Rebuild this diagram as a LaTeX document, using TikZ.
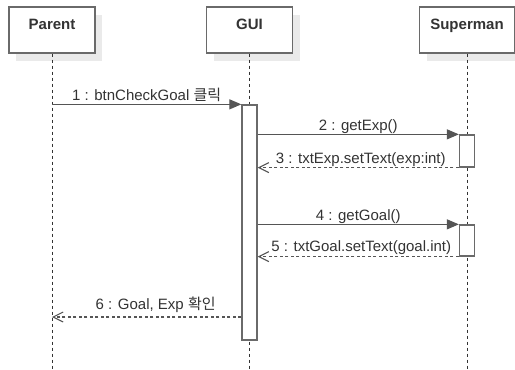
\documentclass[tikz,border=0pt]{standalone}
\usepackage{fontspec}
\setmainfont{Liberation Sans}
\newfontfamily\kr{Noto Sans CJK KR}
\usetikzlibrary{arrows.meta,shadows}
\definecolor{ink}{HTML}{333333}
\definecolor{boxline}{HTML}{6A6A6A}
\definecolor{wire}{HTML}{555555}
\definecolor{shade}{HTML}{EAEAEA}
\begin{document}
\begin{tikzpicture}[x=1pt,y=-1pt,
  actor/.style={draw=boxline, line width=1.3pt, fill=white, minimum height=46pt,
    inner sep=0pt, text=ink, font=\fontsize{15}{18}\selectfont\bfseries,
    text height=11pt, text depth=12.4pt,
    drop shadow={shadow xshift=7pt, shadow yshift=-8pt, fill=shade, opacity=1}},
  life/.style={draw=ink, line width=1pt, dash pattern=on 3pt off 3pt},
  act/.style={draw=boxline, line width=1.3pt, fill=white, minimum width=15pt, inner sep=0pt},
  msg/.style={draw=wire, line width=1.2pt, -{Triangle[length=12pt,width=10pt]}},
  ret/.style={draw=wire, line width=1.1pt, dash pattern=on 3pt off 2.5pt,
    -{Straight Barb[length=10pt,width=10pt,line width=1.1pt]}},
  lbl/.style={text=ink, font=\fontsize{15}{18}\selectfont, inner sep=0pt, anchor=base}]
\useasboundingbox (0,0) rectangle (515,370);

% participants
\node[actor, minimum width=86pt] (P) at (52,30) {Parent};
\node[actor, minimum width=86pt] (G) at (249.5,30) {GUI};
\node[actor, minimum width=95pt] (S) at (467,30) {Superman};

% reference heights
\coordinate (bot) at (0,370);
\coordinate (ygui) at (0,222.5);
\coordinate (ys1) at (0,151);
\coordinate (ys2) at (0,240.5);
\coordinate (y6) at (0,317);

% lifelines
\draw[life] (P.south) -- (P.south |- bot);
\draw[life] (G.south) -- (G.south |- bot);
\draw[life] (S.south) -- (S.south |- bot);

% activation bars
\node[act, minimum height=235pt] (gbar) at (G.south |- ygui) {};
\node[act, minimum height=32pt] (s1) at (S.south |- ys1) {};
\node[act, minimum height=31pt] (s2) at (S.south |- ys2) {};

% messages
\draw[msg] (P.south |- gbar.north) -- (gbar.north west)
  node[lbl, midway, yshift=4pt] {1 : btnCheckGoal {\kr 클릭}};
\draw[msg] (gbar.east |- s1.north) -- (s1.north west)
  node[lbl, midway, yshift=3.5pt] {2 : getExp()};
\draw[ret] (s1.south west) -- (gbar.east |- s1.south)
  node[lbl, midway, xshift=2.5pt, yshift=4.5pt] {3 : txtExp.setText(exp:int)};
\draw[msg] (gbar.east |- s2.north) -- (s2.north west)
  node[lbl, midway, yshift=3.5pt] {4 : getGoal()};
\draw[ret] (s2.south west) -- (gbar.east |- s2.south)
  node[lbl, midway, xshift=3pt, yshift=5pt] {5 : txtGoal.setText(goal.int)};
\draw[ret] (gbar.west |- y6) -- (P.south |- y6)
  node[lbl, midway, xshift=9pt, yshift=7.5pt] {6 : Goal, Exp {\kr 확인}};
\end{tikzpicture}
\end{document}
